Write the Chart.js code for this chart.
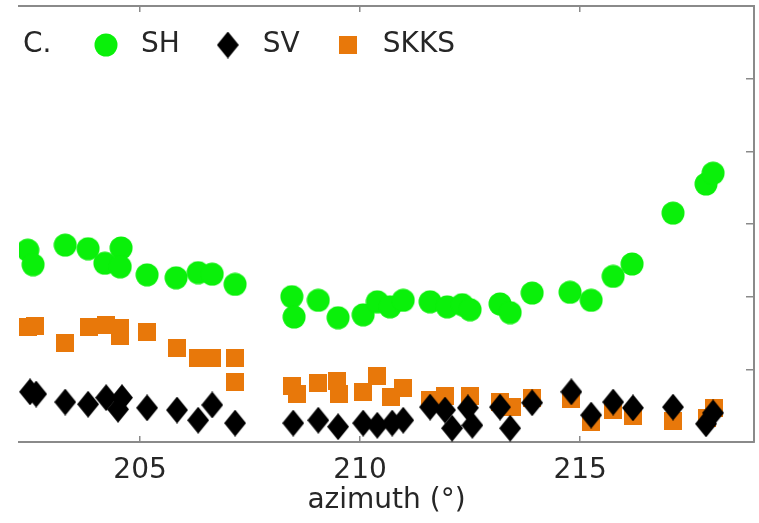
<!DOCTYPE html>
<html>
<head>
<meta charset="utf-8">
<script src="https://cdn.jsdelivr.net/npm/chart.js@4.4.1/dist/chart.umd.min.js"></script>
<style>
  html, body { margin: 0; padding: 0; background: #fff; }
  canvas { display: block; }
</style>
</head>
<body>
<canvas id="grafico" width="759" height="523"></canvas>
<script>
// azimute (graus) e valor de cada medida
const shAzimuth = [202.45, 202.57, 203.30, 203.82, 204.20, 204.57, 204.55, 205.16, 205.82, 206.32, 206.64, 207.16,
    208.45, 208.50, 209.05, 209.50, 210.07, 210.39, 210.68, 210.98, 211.59, 211.98, 212.32, 212.50, 213.18, 213.41,
    213.91, 214.77, 215.25, 215.75, 216.18, 217.11, 217.86, 218.02];
const shValor = [2.64, 2.44, 2.71, 2.66, 2.46, 2.67, 2.41, 2.30, 2.26, 2.33, 2.31, 2.17,
    2.00, 1.72, 1.95, 1.71, 1.75, 1.93, 1.86, 1.95, 1.93, 1.86, 1.89, 1.82, 1.90, 1.78,
    2.05, 2.06, 1.95, 2.28, 2.45, 3.15, 3.55, 3.70];

const svAzimuth = [202.50, 202.64, 203.30, 203.82, 204.23, 204.50, 204.59, 205.16, 205.84, 206.32, 206.64, 207.16,
    208.48, 209.05, 209.50, 210.07, 210.39, 210.73, 210.98, 211.59, 211.93, 212.09, 212.45, 212.55, 213.18, 213.41,
    213.91, 214.80, 215.25, 215.75, 216.20, 217.11, 217.86, 218.02];
const svValor = [0.69, 0.66, 0.55, 0.52, 0.61, 0.45, 0.61, 0.47, 0.44, 0.30, 0.51, 0.26,
    0.26, 0.30, 0.21, 0.26, 0.23, 0.26, 0.30, 0.48, 0.44, 0.19, 0.47, 0.23, 0.48, 0.19,
    0.54, 0.69, 0.37, 0.55, 0.47, 0.48, 0.25, 0.40];

const skksAzimuth = [202.45, 202.61, 203.30, 203.84, 204.23, 204.55, 204.55, 205.16, 205.84, 206.32, 206.64, 207.16,
    207.16, 208.45, 208.57, 209.05, 209.48, 209.52, 210.07, 210.39, 210.70, 210.98, 211.59, 211.93, 212.50, 213.18,
    213.45, 213.91, 214.80, 215.25, 215.75, 216.20, 217.11, 217.89, 218.05];
const skksValor = [1.58, 1.60, 1.36, 1.58, 1.61, 1.57, 1.46, 1.51, 1.29, 1.16, 1.16, 1.16,
    0.83, 0.77, 0.66, 0.81, 0.84, 0.66, 0.69, 0.91, 0.62, 0.74, 0.58, 0.63, 0.63, 0.55,
    0.48, 0.61, 0.59, 0.28, 0.44, 0.36, 0.29, 0.33, 0.47];

// eixos
const xMin = 202.25;
const xMax = 218.95;
const xTicks = [205, 210, 215];
const yMin = 0;
const yMax = 6;
const yTicks = [0, 1, 2, 3, 4, 5, 6];

const fonte = { family: 'DejaVu Sans', size: 28 };
const corTexto = '#262626';
const corEixo = '#8a8a8a';

// desenha o marcador num canvas pequeno (usado como pointStyle)
function marcador(tipo, cor) {
    const c = document.createElement('canvas');
    const ctx = c.getContext('2d');
    if (tipo === 'circulo') {
        c.width = 24; c.height = 24;
        ctx.fillStyle = cor;
        ctx.beginPath();
        ctx.arc(12, 12, 11.5, 0, Math.PI * 2);
        ctx.fill();
    } else if (tipo === 'losango') {
        c.width = 22; c.height = 27;
        ctx.fillStyle = cor;
        ctx.beginPath();
        ctx.moveTo(11, 0);
        ctx.lineTo(22, 13.5);
        ctx.lineTo(11, 27);
        ctx.lineTo(0, 13.5);
        ctx.closePath();
        ctx.fill();
    } else {
        c.width = 18; c.height = 18;
        ctx.fillStyle = cor;
        ctx.fillRect(0, 0, 18, 18);
    }
    return c;
}

function pontos(xs, ys) {
    return xs.map((x, i) => ({ x: x, y: ys[i] }));
}

// legenda dentro da area do grafico + letra do painel
const legendaPainel = {
    id: 'legendaPainel',
    afterDraw(chart) {
        const ctx = chart.ctx;
        const y = 45;
        ctx.save();
        ctx.font = `${fonte.size}px ${fonte.family}`;
        ctx.fillStyle = corTexto;
        ctx.textBaseline = 'middle';
        ctx.textAlign = 'left';
        ctx.fillText('C.', 23, y);

        let centro = 106;
        chart.data.datasets.forEach(ds => {
            const img = ds.pointStyle;
            ctx.drawImage(img, centro - img.width / 2, y - img.height / 2);
            const xt = centro + 35;
            ctx.fillText(ds.label, xt, y);
            centro = xt + ctx.measureText(ds.label).width + 48;
        });
        ctx.restore();
    }
};

const eixoBase = {
    type: 'linear',
    min: xMin,
    max: xMax,
    afterBuildTicks: (s) => { s.ticks = xTicks.map(v => ({ value: v })); },
    border: { display: true, color: corEixo, width: 2 },
    grid: { drawOnChartArea: false, color: corEixo, lineWidth: 1.5, tickLength: -6 }
};

new Chart(document.getElementById('grafico'), {
    type: 'scatter',
    data: {
        datasets: [
            {
                label: 'SH',
                data: pontos(shAzimuth, shValor),
                pointStyle: marcador('circulo', '#0af00a')
            },
            {
                label: 'SV',
                data: pontos(svAzimuth, svValor),
                pointStyle: marcador('losango', '#000000')
            },
            {
                label: 'SKKS',
                data: pontos(skksAzimuth, skksValor),
                pointStyle: marcador('quadrado', '#e8780a')
            }
        ]
    },
    options: {
        responsive: false,
        animation: false,
        layout: { padding: { left: 19, right: 0, top: 0, bottom: 0 } },
        plugins: {
            legend: { display: false },
            tooltip: { enabled: false }
        },
        scales: {
            x: Object.assign({}, eixoBase, {
                position: 'bottom',
                ticks: { font: fonte, color: corTexto, padding: 18, maxRotation: 0 },
                title: {
                    display: true,
                    text: 'azimuth (°)',
                    font: fonte,
                    color: corTexto,
                    padding: { top: 0, bottom: 5 }
                },
                afterFit: (s) => { s.height = 81; }
            }),
            xTopo: Object.assign({}, eixoBase, {
                position: 'top',
                ticks: { display: false },
                afterFit: (s) => { s.height = 6; }
            }),
            y: {
                type: 'linear',
                min: yMin,
                max: yMax,
                display: false
            },
            yDir: {
                type: 'linear',
                position: 'right',
                min: yMin,
                max: yMax,
                afterBuildTicks: (s) => { s.ticks = yTicks.map(v => ({ value: v })); },
                ticks: { display: false },
                border: { display: true, color: corEixo, width: 2 },
                grid: { drawOnChartArea: false, color: corEixo, lineWidth: 1.5, tickLength: -8 },
                afterFit: (s) => { s.width = 5; }
            }
        }
    },
    plugins: [legendaPainel]
});
</script>
</body>
</html>
